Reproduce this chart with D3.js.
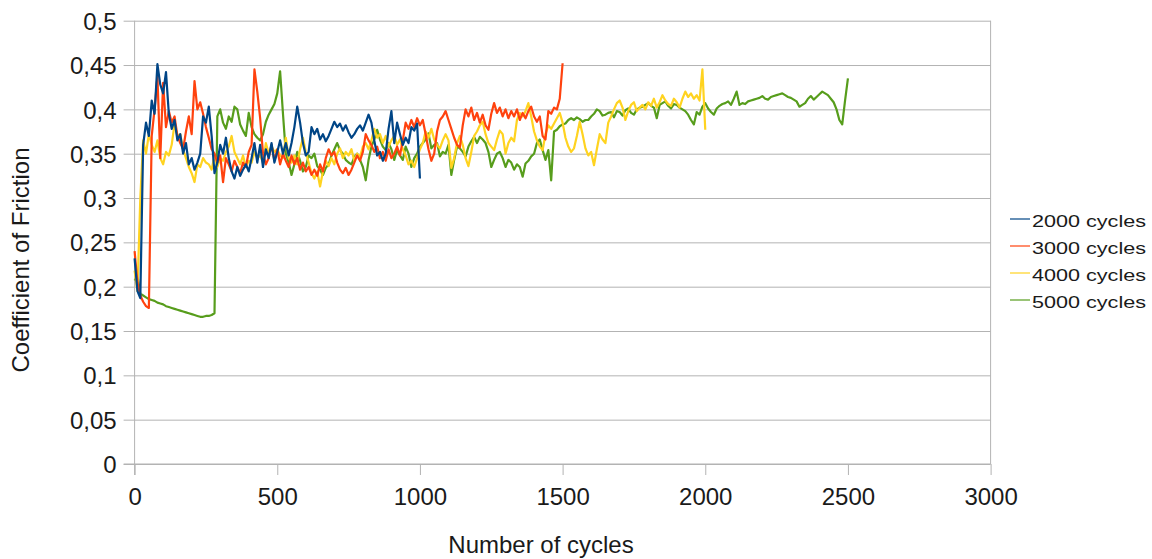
<!DOCTYPE html>
<html>
<head>
<meta charset="utf-8">
<script src="https://cdn.jsdelivr.net/npm/d3@7"></script>
<style>
  body { margin: 0; background: #fff; }
  svg { display: block; font-family: "Liberation Sans", Arial, sans-serif; }
</style>
</head>
<body>
<div id="chart"></div>
<script>
// --- Data (coefficient of friction, one value every 10 cycles) ---
const STEP = 10;
const seriesNames = ["2000 cycles", "3000 cycles", "4000 cycles", "5000 cycles"];
const seriesColors = ["#004586", "#ff420e", "#ffd320", "#579d1c"];
const xTicks = [0, 500, 1000, 1500, 2000, 2500, 3000];
const yTicks = [0, 0.05, 0.1, 0.15, 0.2, 0.25, 0.3, 0.35, 0.4, 0.45, 0.5];

const cof2000 = [
  0.232, 0.195, 0.187, 0.360, 0.385, 0.370, 0.410, 0.395, 0.451, 0.428,
  0.418, 0.442, 0.395, 0.378, 0.388, 0.365, 0.372, 0.350, 0.362, 0.338,
  0.345, 0.332, 0.340, 0.350, 0.392, 0.385, 0.403, 0.370, 0.328, 0.340,
  0.360, 0.350, 0.368, 0.345, 0.330, 0.322, 0.335, 0.325, 0.332, 0.338,
  0.330, 0.345, 0.362, 0.340, 0.360, 0.335, 0.355, 0.345, 0.362, 0.340,
  0.352, 0.365, 0.350, 0.362, 0.348, 0.362, 0.380, 0.403, 0.385, 0.362,
  0.348, 0.352, 0.380, 0.372, 0.378, 0.366, 0.372, 0.364, 0.370, 0.378,
  0.386, 0.380, 0.384, 0.376, 0.382, 0.374, 0.368, 0.372, 0.378, 0.382,
  0.376, 0.385, 0.394, 0.385, 0.365, 0.348, 0.352, 0.342, 0.350, 0.378,
  0.398, 0.362, 0.385, 0.372, 0.360, 0.368, 0.362, 0.380, 0.376, 0.384,
  0.322
];

const cof3000 = [
  0.240, 0.205, 0.190, 0.183, 0.178, 0.176, 0.370, 0.400, 0.437, 0.345,
  0.430, 0.380, 0.398, 0.385, 0.392, 0.370, 0.362, 0.355, 0.375, 0.392,
  0.372, 0.432, 0.400, 0.408, 0.395, 0.380, 0.368, 0.355, 0.350, 0.340,
  0.348, 0.318, 0.345, 0.338, 0.330, 0.342, 0.335, 0.328, 0.340, 0.335,
  0.352, 0.360, 0.445, 0.420, 0.390, 0.350, 0.338, 0.345, 0.360, 0.342,
  0.355, 0.338, 0.350, 0.342, 0.335, 0.348, 0.338, 0.345, 0.332, 0.340,
  0.330, 0.335, 0.326, 0.332, 0.325, 0.338, 0.330, 0.345, 0.355, 0.348,
  0.352, 0.340, 0.332, 0.328, 0.334, 0.326, 0.332, 0.340, 0.348, 0.342,
  0.352, 0.372, 0.365, 0.360, 0.352, 0.358, 0.345, 0.352, 0.342, 0.355,
  0.345, 0.350, 0.358, 0.348, 0.365, 0.385, 0.378, 0.388, 0.380, 0.390,
  0.382, 0.388, 0.372, 0.355, 0.342, 0.350, 0.375, 0.388, 0.392, 0.398,
  0.388, 0.378, 0.368, 0.360, 0.357, 0.382, 0.400, 0.392, 0.402, 0.388,
  0.396, 0.385, 0.394, 0.382, 0.377, 0.395, 0.407, 0.396, 0.402, 0.392,
  0.400, 0.390, 0.398, 0.392, 0.400, 0.388, 0.396, 0.390, 0.398, 0.403,
  0.392, 0.386, 0.392, 0.370, 0.366, 0.398, 0.395, 0.402, 0.400, 0.412,
  0.452
];

const cof4000 = [
  0.218, 0.195, 0.300, 0.365, 0.350, 0.372, 0.360, 0.352, 0.365, 0.345,
  0.338, 0.352, 0.348, 0.360, 0.384, 0.370, 0.372, 0.355, 0.345, 0.335,
  0.328, 0.318, 0.338, 0.335, 0.345, 0.340, 0.338, 0.332, 0.348, 0.335,
  0.345, 0.342, 0.352, 0.358, 0.370, 0.352, 0.345, 0.338, 0.348, 0.335,
  0.342, 0.340, 0.352, 0.345, 0.348, 0.340, 0.362, 0.350, 0.358, 0.352,
  0.355, 0.348, 0.345, 0.368, 0.345, 0.340, 0.348, 0.338, 0.355, 0.368,
  0.352, 0.340, 0.328, 0.322, 0.330, 0.313, 0.330, 0.342, 0.336, 0.345,
  0.338, 0.350, 0.356, 0.345, 0.352, 0.348, 0.355, 0.342, 0.350, 0.346,
  0.358, 0.362, 0.355, 0.365, 0.378, 0.368, 0.372, 0.362, 0.370, 0.358,
  0.365, 0.370, 0.360, 0.366, 0.355, 0.348, 0.338, 0.342, 0.335, 0.345,
  0.355, 0.362, 0.375, 0.368, 0.378, 0.366, 0.360, 0.356, 0.365, 0.372,
  0.365, 0.334, 0.345, 0.362, 0.370, 0.360, 0.345, 0.336, 0.352, 0.370,
  0.375, 0.382, 0.386, 0.372, 0.362, 0.358, 0.354, 0.366, 0.376, 0.372,
  0.350, 0.362, 0.368, 0.364, 0.388, 0.396, 0.392, 0.398, 0.407, 0.392,
  0.375, 0.365, 0.358, 0.354, 0.372, 0.382, 0.378, 0.384, 0.390, 0.396,
  0.385, 0.368, 0.358, 0.352, 0.356, 0.370, 0.386, 0.372, 0.356, 0.348,
  0.352, 0.337, 0.355, 0.372, 0.366, 0.362, 0.385, 0.392, 0.400, 0.407,
  0.410, 0.402, 0.388, 0.398, 0.405, 0.408, 0.398, 0.402, 0.405, 0.400,
  0.408, 0.404, 0.412, 0.402, 0.408, 0.416, 0.410, 0.406, 0.404, 0.412,
  0.408, 0.402, 0.412, 0.420, 0.414, 0.418, 0.412, 0.416, 0.410, 0.445,
  0.377
];

const cof5000 = [
  0.207, 0.212, 0.192, 0.190, 0.188, 0.186, 0.185, 0.184, 0.182, 0.181,
  0.180, 0.178, 0.177, 0.176, 0.175, 0.174, 0.173, 0.172, 0.171, 0.170,
  0.169, 0.168, 0.167, 0.166, 0.166, 0.167, 0.167, 0.168, 0.170, 0.392,
  0.400, 0.385, 0.378, 0.392, 0.386, 0.403, 0.400, 0.383, 0.376, 0.370,
  0.396, 0.380, 0.372, 0.368, 0.365, 0.372, 0.386, 0.394, 0.400, 0.406,
  0.418, 0.443, 0.395, 0.350, 0.340, 0.326, 0.338, 0.352, 0.342, 0.330,
  0.335, 0.348, 0.345, 0.350, 0.336, 0.332, 0.326, 0.334, 0.338, 0.348,
  0.355, 0.362, 0.354, 0.350, 0.343, 0.340, 0.338, 0.346, 0.350, 0.343,
  0.335, 0.320, 0.343, 0.358, 0.366, 0.377, 0.366, 0.358, 0.354, 0.362,
  0.355, 0.343, 0.354, 0.348, 0.343, 0.358, 0.350, 0.335, 0.345, 0.350,
  0.358, 0.362, 0.366, 0.373, 0.356, 0.360, 0.362, 0.347, 0.352, 0.350,
  0.360, 0.326, 0.343, 0.358, 0.356, 0.352, 0.347, 0.358, 0.364, 0.369,
  0.362, 0.369, 0.366, 0.362, 0.352, 0.335, 0.343, 0.350, 0.352, 0.345,
  0.335, 0.343, 0.340, 0.332, 0.338, 0.335, 0.324, 0.339, 0.342, 0.347,
  0.350, 0.362, 0.366, 0.354, 0.343, 0.354, 0.320, 0.375, 0.377, 0.381,
  0.383, 0.384, 0.388, 0.390, 0.388, 0.391, 0.389, 0.386, 0.388, 0.388,
  0.392, 0.395, 0.400, 0.398, 0.393, 0.394, 0.396, 0.397, 0.391, 0.398,
  0.397, 0.393, 0.399, 0.401, 0.396, 0.394, 0.400, 0.402, 0.403, 0.405,
  0.407, 0.404, 0.402, 0.390, 0.405, 0.407, 0.409, 0.404, 0.401, 0.406,
  0.405, 0.402, 0.400, 0.398, 0.394, 0.388, 0.383, 0.397, 0.394, 0.403,
  0.407, 0.401, 0.397, 0.394, 0.401, 0.404, 0.406, 0.407, 0.409, 0.405,
  0.412, 0.420, 0.405, 0.407, 0.406, 0.409, 0.410, 0.411, 0.412, 0.413,
  0.415, 0.412, 0.411, 0.414, 0.415, 0.416, 0.417, 0.418, 0.416, 0.414,
  0.413, 0.411, 0.409, 0.403, 0.405, 0.407, 0.412, 0.415, 0.411, 0.414,
  0.417, 0.420, 0.418, 0.416, 0.412, 0.408, 0.400, 0.388, 0.383, 0.410,
  0.435
];

const allSeries = [cof2000, cof3000, cof4000, cof5000];

// --- Layout ---
const width = 1152, height = 559;
const plot = { left: 134.6, right: 990.6, top: 20.7, bottom: 464 };
const gridColor = "#b3b3b3";
const textColor = "#1a1a1a";

const svg = d3.select("#chart").append("svg")
    .attr("width", width)
    .attr("height", height);

svg.append("rect").attr("width", width).attr("height", height).attr("fill", "#fff");

const x = d3.scaleLinear().domain([0, 3000]).range([plot.left, plot.right]);
const y = d3.scaleLinear().domain([0, 0.5]).range([plot.bottom, plot.top]);

const commaLocale = d3.formatLocale({ decimal: ",", thousands: ".", grouping: [3], currency: ["", ""] });
const yFormat = commaLocale.format("~g");

// horizontal gridlines
svg.append("g")
    .attr("transform", `translate(${plot.left},0)`)
    .call(d3.axisLeft(y).tickValues(yTicks).tickSize(-(plot.right - plot.left)).tickFormat(""))
    .call(g => g.select(".domain").remove())
    .call(g => g.selectAll("line").attr("stroke", gridColor).attr("stroke-width", 1));

// right frame
svg.append("line")
    .attr("x1", plot.right).attr("x2", plot.right)
    .attr("y1", plot.top).attr("y2", plot.bottom)
    .attr("stroke", gridColor);

// y axis
svg.append("g")
    .attr("transform", `translate(${plot.left},0)`)
    .call(d3.axisLeft(y).tickValues(yTicks).tickSize(11).tickPadding(7).tickFormat(yFormat))
    .call(g => g.select(".domain").attr("stroke", gridColor).attr("d", `M0,${plot.top}V${plot.bottom + 11}`))
    .call(g => g.selectAll("line").attr("stroke", gridColor))
    .call(g => g.selectAll("text")
        .attr("fill", textColor)
        .style("font-size", "24px")
        .attr("dy", "0.36em"));

// x axis
svg.append("g")
    .attr("transform", `translate(0,${plot.bottom})`)
    .call(d3.axisBottom(x).tickValues(xTicks).tickSize(11).tickPadding(13).tickFormat(d3.format("d")))
    .call(g => g.select(".domain").attr("stroke", gridColor).attr("d", `M${plot.left - 11},0H${plot.right}`))
    .call(g => g.selectAll("line").attr("stroke", gridColor))
    .call(g => g.selectAll("text")
        .attr("fill", textColor)
        .style("font-size", "24px"));

// --- Lines (green first so blue ends on top) ---
const line = d3.line()
    .x((d, i) => x(i * STEP))
    .y(d => y(d));

[3, 2, 1, 0].forEach(k => {
    svg.append("path")
        .datum(allSeries[k])
        .attr("fill", "none")
        .attr("stroke", seriesColors[k])
        .attr("stroke-width", 2.2)
        .attr("stroke-linejoin", "round")
        .attr("d", line);
});

// --- Axis titles ---
svg.append("text")
    .attr("x", 541)
    .attr("y", 553)
    .attr("text-anchor", "middle")
    .attr("fill", textColor)
    .style("font-size", "24px")
    .text("Number of cycles");

svg.append("text")
    .attr("transform", "translate(29,260) rotate(-90)")
    .attr("text-anchor", "middle")
    .attr("fill", textColor)
    .style("font-size", "24px")
    .text("Coefficient of Friction");

// --- Legend ---
const legend = svg.append("g").attr("transform", "translate(1010,219)");
seriesNames.forEach((name, i) => {
    const row = legend.append("g").attr("transform", `translate(0,${i * 27})`);
    row.append("line")
        .attr("x1", 0).attr("x2", 20)
        .attr("stroke", seriesColors[i])
        .attr("stroke-width", 1.2);
    row.append("text")
        .attr("x", 22)
        .attr("y", 8)
        .attr("fill", textColor)
        .attr("textLength", 114)
        .attr("lengthAdjust", "spacingAndGlyphs")
        .style("font-size", "17px")
        .text(name);
});
</script>
</body>
</html>
